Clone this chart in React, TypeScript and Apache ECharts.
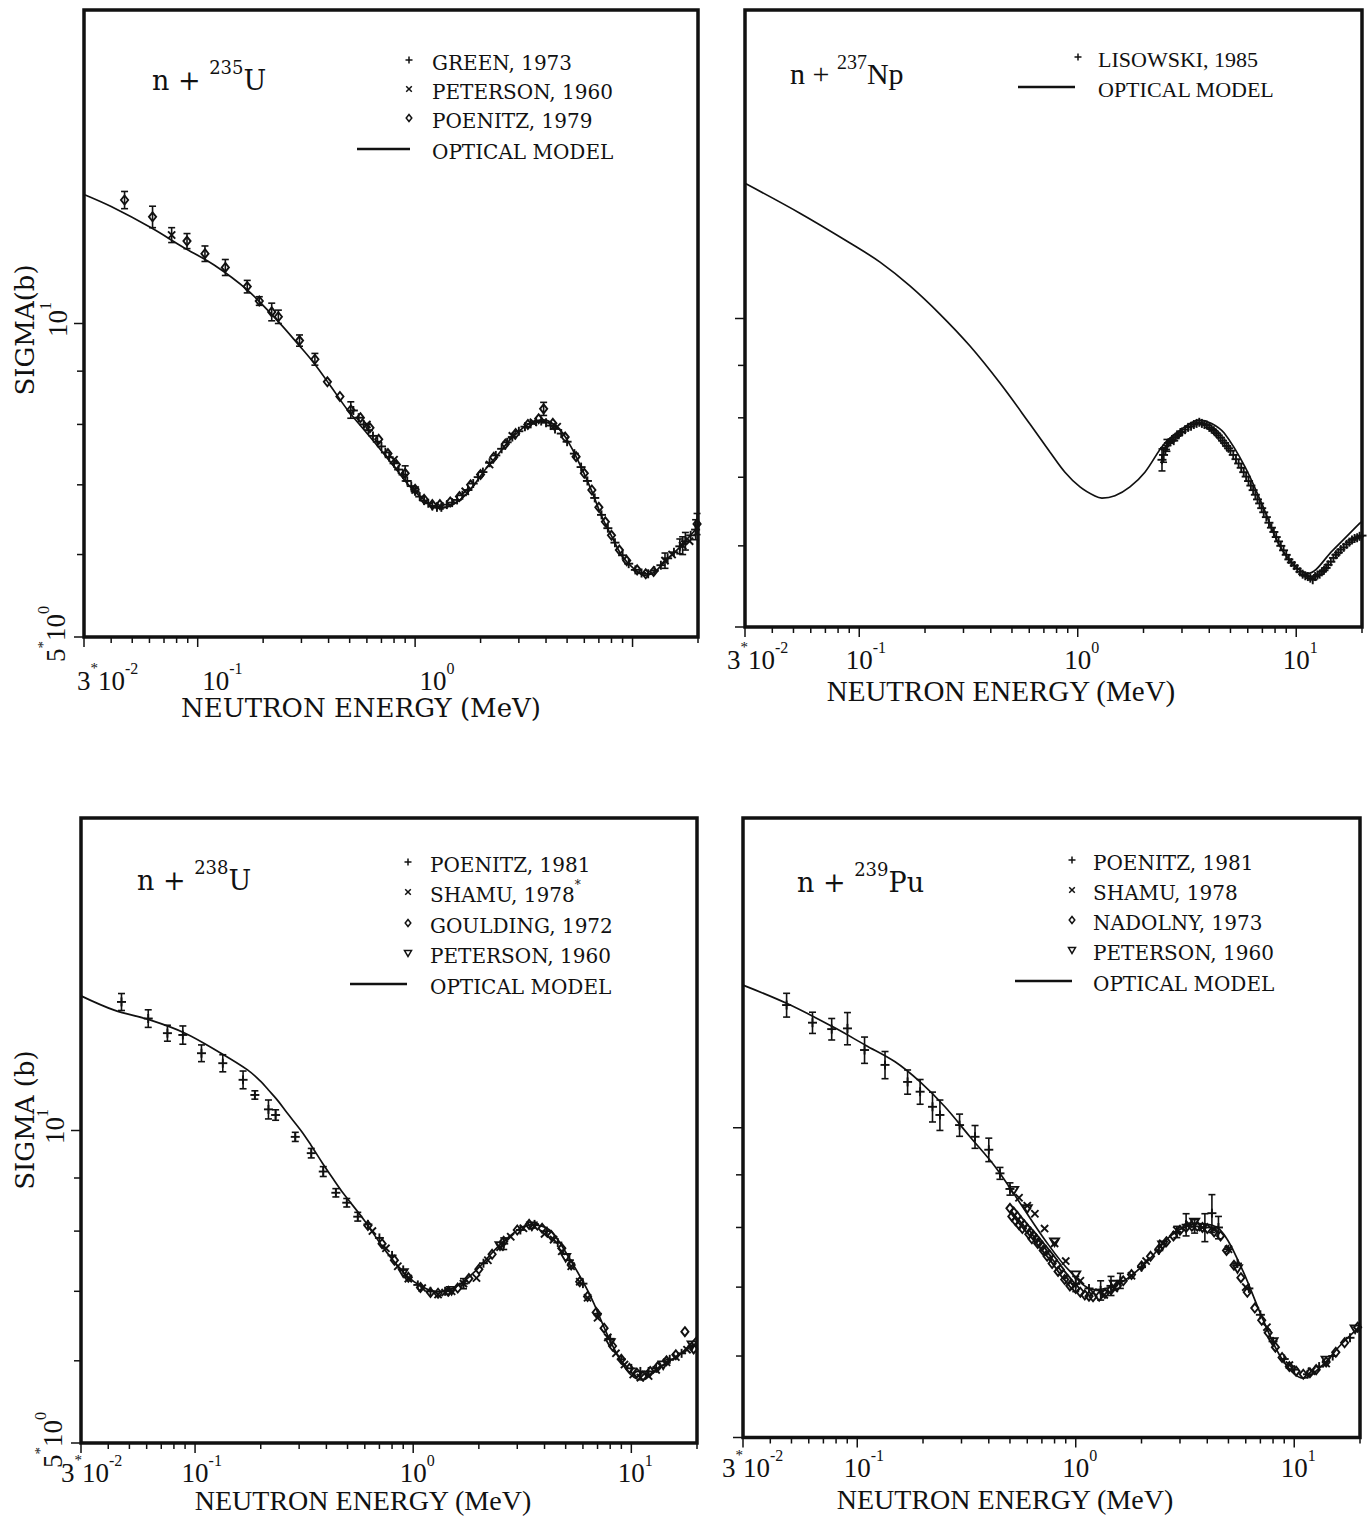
import React, { useEffect, useRef } from "react";
import * as echarts from "echarts";

// ---------- axis ranges and ticks ----------
const X_MIN = 0.03;
const X_MAX = 20;
const Y_MIN = 5;
const Y_MAX = 20;

const xTickValues = [0.03, 0.04, 0.05, 0.06, 0.07, 0.08, 0.09, 0.1, 0.2, 0.3, 0.4, 0.5, 0.6, 0.7, 0.8, 0.9, 1, 2, 3, 4, 5, 6, 7, 8, 9, 10, 20];
const xMajorTicks = [0.03, 0.1, 1, 10];
const yTickValues = [5, 6, 7, 8, 9, 10];
const yMajorTicks = [5, 10];

const xLabelValues = [0.03, 0.1, 1, 10];
const xLabelMantissas = ["3", "", "", ""];
const xLabelExponents = ["-2", "-1", "0", "1"];
const yLabelValues = [10, 5];
const yLabelMantissas = ["", "5"];
const yLabelExponents = ["1", "0"];

// ---------- n + 235U : [E (MeV), sigma (b), error (b)] ----------
const u235Model = [
  [0.03, 13.3], [0.04, 12.95], [0.0614, 12.35], [0.085, 11.85], [0.119, 11.38], [0.169, 10.77],
  [0.231, 10.08], [0.29, 9.55], [0.343, 9.16], [0.41, 8.7], [0.489, 8.26], [0.59, 7.88],
  [0.695, 7.56], [0.82, 7.24], [0.949, 6.97], [1.1, 6.77], [1.26, 6.65], [1.42, 6.67],
  [1.61, 6.77], [1.84, 6.97], [2.09, 7.23], [2.4, 7.48], [2.73, 7.73], [3.3, 8.0],
  [3.89, 8.08], [4.64, 7.9], [5.2, 7.62], [5.78, 7.29], [6.5, 6.9], [7.21, 6.53],
  [8.1, 6.22], [9.0, 5.97], [10.1, 5.82], [11.4, 5.73], [12.6, 5.77], [13.9, 5.89],
  [16.5, 6.1], [20, 6.38],
];
const u235Green = [
  [0.52, 8.25, 0], [0.55, 8.12, 0], [0.58, 8.0, 0], [0.61, 7.9, 0], [0.64, 7.8, 0], [0.67, 7.7, 0],
  [0.7, 7.62, 0], [0.73, 7.52, 0], [0.76, 7.44, 0], [0.8, 7.34, 0], [0.84, 7.24, 0], [0.88, 7.16, 0],
  [0.92, 7.06, 0], [0.96, 6.98, 0], [1.0, 6.9, 0], [1.05, 6.82, 0], [1.1, 6.76, 0], [1.15, 6.72, 0],
  [1.2, 6.68, 0], [1.26, 6.66, 0], [1.32, 6.66, 0], [1.4, 6.7, 0], [1.48, 6.73, 0], [1.56, 6.77, 0],
  [1.65, 6.84, 0], [1.75, 6.92, 0], [1.85, 7.02, 0], [1.95, 7.12, 0], [2.05, 7.2, 0], [2.2, 7.35, 0],
  [2.35, 7.47, 0], [2.5, 7.58, 0], [2.65, 7.69, 0], [2.8, 7.78, 0], [3.0, 7.88, 0], [3.2, 7.96, 0],
  [3.4, 8.01, 0], [3.6, 8.05, 0], [3.8, 8.06, 0], [4.0, 8.03, 0], [4.2, 7.98, 0], [4.4, 7.92, 0],
  [4.7, 7.84, 0], [5.0, 7.7, 0], [5.4, 7.5, 0], [5.8, 7.28, 0], [6.2, 7.06, 0], [6.7, 6.8, 0],
  [7.2, 6.55, 0], [7.7, 6.36, 0], [8.3, 6.16, 0], [9.0, 5.99, 0], [9.6, 5.88, 0], [10.3, 5.8, 0],
  [11.0, 5.76, 0], [11.8, 5.75, 0], [12.6, 5.79, 0], [13.5, 5.86, 0], [14.5, 5.95, 0], [15.5, 6.03, 0],
  [16.5, 6.11, 0.1], [17.5, 6.18, 0.12], [18.5, 6.26, 0], [19.5, 6.34, 0.14],
];
const u235Peterson = [
  [0.0759, 12.16, 0.2], [0.6, 8.0, 0], [0.8, 7.4, 0], [1.0, 6.92, 0], [1.3, 6.68, 0], [1.7, 6.9, 0],
  [2.2, 7.32, 0], [2.8, 7.8, 0], [3.5, 8.04, 0], [4.5, 7.96, 0], [14.1, 5.92, 0.1], [15.2, 6.0, 0],
  [17.0, 6.12, 0.12], [18.3, 6.18, 0],
];
const u235Poenitz = [
  [0.0461, 13.14, 0.25], [0.062, 12.66, 0.3], [0.0893, 12.0, 0.2], [0.108, 11.67, 0.2], [0.134, 11.32, 0.2],
  [0.169, 10.85, 0.15], [0.192, 10.51, 0.1], [0.219, 10.26, 0.2], [0.235, 10.15, 0.15], [0.294, 9.63, 0.12],
  [0.346, 9.24, 0.12], [0.395, 8.79, 0], [0.451, 8.51, 0], [0.506, 8.26, 0.15], [0.56, 8.12, 0],
  [0.62, 7.94, 0], [0.68, 7.74, 0], [0.75, 7.5, 0], [0.82, 7.32, 0], [0.9, 7.18, 0.12], [1.0, 6.93, 0],
  [1.1, 6.78, 0], [1.2, 6.7, 0], [1.3, 6.7, 0], [1.45, 6.74, 0], [1.6, 6.82, 0], [1.8, 7.0, 0],
  [2.0, 7.16, 0], [2.3, 7.44, 0], [2.6, 7.66, 0], [2.9, 7.84, 0], [3.3, 8.0, 0], [3.7, 8.1, 0],
  [3.9, 8.28, 0.12], [4.3, 8.02, 0], [4.9, 7.78, 0], [5.5, 7.45, 0], [6.0, 7.18, 0], [6.5, 6.92, 0],
  [7.0, 6.66, 0], [7.5, 6.45, 0], [8.0, 6.26, 0], [8.7, 6.06, 0], [9.4, 5.92, 0], [10.5, 5.8, 0],
  [11.5, 5.75, 0], [12.5, 5.78, 0], [19.8, 6.42, 0.15],
];

// ---------- n + 237Np ----------
const np237Model = [
  [0.03, 13.55], [0.0535, 12.67], [0.0907, 11.85], [0.1245, 11.35], [0.1706, 10.76], [0.2339, 10.1],
  [0.3213, 9.4], [0.4406, 8.65], [0.6043, 7.89], [0.746, 7.41], [0.874, 7.08], [1.024, 6.85],
  [1.199, 6.71], [1.291, 6.68], [1.48, 6.715], [1.734, 6.85], [2.03, 7.08], [2.507, 7.56],
  [3.096, 7.84], [3.59, 7.96], [4.1, 7.9], [4.68, 7.73], [5.82, 7.17], [6.95, 6.6],
  [8.65, 5.94], [11.3, 5.64], [14.7, 5.94], [19.5, 6.31], [20, 6.34],
];
const np237Lisowski = [
  [2.43, 7.28, 0.18], [2.47, 7.36, 0.12], [2.52, 7.45, 0], [2.56, 7.52, 0.1], [2.6, 7.56, 0], [2.65, 7.58, 0],
  [2.7, 7.62, 0], [2.75, 7.6, 0], [2.8, 7.66, 0], [2.85, 7.7, 0], [2.9, 7.7, 0], [2.95, 7.74, 0],
  [3.0, 7.75, 0], [3.1, 7.79, 0], [3.2, 7.83, 0], [3.3, 7.85, 0], [3.4, 7.88, 0], [3.5, 7.9, 0],
  [3.6, 7.92, 0], [3.7, 7.9, 0], [3.8, 7.88, 0], [3.9, 7.87, 0], [4.0, 7.83, 0], [4.1, 7.8, 0],
  [4.2, 7.77, 0], [4.3, 7.73, 0], [4.4, 7.69, 0], [4.5, 7.65, 0], [4.6, 7.6, 0], [4.7, 7.56, 0],
  [4.8, 7.51, 0], [4.9, 7.47, 0], [5.0, 7.43, 0], [5.15, 7.36, 0], [5.3, 7.29, 0], [5.45, 7.22, 0],
  [5.6, 7.15, 0], [5.75, 7.08, 0], [5.9, 7.01, 0], [6.05, 6.94, 0], [6.2, 6.87, 0], [6.35, 6.8, 0],
  [6.5, 6.73, 0], [6.65, 6.66, 0], [6.8, 6.6, 0], [6.95, 6.53, 0], [7.1, 6.47, 0], [7.3, 6.4, 0],
  [7.5, 6.32, 0], [7.7, 6.25, 0], [7.9, 6.19, 0], [8.1, 6.12, 0], [8.3, 6.06, 0], [8.5, 6.0, 0],
  [8.75, 5.94, 0], [9.0, 5.88, 0], [9.25, 5.82, 0], [9.5, 5.78, 0], [9.8, 5.74, 0], [10.1, 5.7, 0],
  [10.4, 5.66, 0], [10.7, 5.63, 0], [11.0, 5.61, 0], [11.3, 5.6, 0], [11.6, 5.58, 0], [11.9, 5.56, 0],
  [12.2, 5.6, 0], [12.5, 5.62, 0], [12.8, 5.63, 0], [13.1, 5.66, 0], [13.4, 5.68, 0], [13.7, 5.71, 0],
  [14.0, 5.75, 0], [14.4, 5.79, 0], [14.8, 5.84, 0], [15.2, 5.88, 0], [15.6, 5.91, 0], [16.0, 5.95, 0],
  [16.5, 5.98, 0], [17.0, 6.02, 0], [17.5, 6.05, 0], [18.0, 6.08, 0], [18.5, 6.1, 0], [19.0, 6.11, 0],
  [19.5, 6.13, 0], [20.0, 6.14, 0],
];

// ---------- n + 238U ----------
const u238Model = [
  [0.03, 13.48], [0.0426, 13.06], [0.062, 12.78], [0.09, 12.41], [0.128, 11.91], [0.174, 11.44],
  [0.2, 11.15], [0.217, 10.94], [0.24, 10.68], [0.264, 10.4], [0.308, 9.98], [0.34, 9.68],
  [0.384, 9.3], [0.43, 8.98], [0.478, 8.7], [0.595, 8.2],
  [0.743, 7.67], [0.925, 7.26], [1.1, 7.07], [1.29, 6.99], [1.57, 7.07], [1.95, 7.34],
  [2.55, 7.79], [3.46, 8.11], [4.22, 8.02], [5.14, 7.56], [6.4, 6.97], [7.98, 6.28],
  [9.52, 5.88], [11.1, 5.75], [13.5, 5.92], [16.9, 6.1], [20, 6.33],
];
const u238Poenitz = [
  [0.046, 13.3, 0.25], [0.061, 12.82, 0.25], [0.0747, 12.41, 0.22], [0.0879, 12.36, 0.25], [0.107, 11.87, 0.22],
  [0.134, 11.61, 0.22], [0.166, 11.19, 0.22], [0.188, 10.82, 0.1], [0.217, 10.48, 0.22], [0.234, 10.35, 0.12],
  [0.288, 9.86, 0.1], [0.341, 9.51, 0.1], [0.387, 9.13, 0.1], [0.442, 8.71, 0.08], [0.496, 8.52, 0.08],
  [0.557, 8.26, 0.08], [0.62, 8.12, 0], [0.7, 7.88, 0], [0.8, 7.58, 0], [0.9, 7.34, 0], [1.05, 7.1, 0],
  [1.2, 7.0, 0], [1.4, 7.0, 0], [1.7, 7.12, 0.08], [2.1, 7.45, 0], [2.6, 7.78, 0.1], [3.1, 8.02, 0],
  [3.6, 8.12, 0], [4.1, 8.0, 0], [4.6, 7.8, 0], [5.2, 7.5, 0], [6.0, 7.12, 0], [7.0, 6.66, 0],
  [8.0, 6.3, 0], [9.0, 6.02, 0], [10.0, 5.9, 0], [11.0, 5.86, 0], [12.0, 5.86, 0], [13.0, 5.9, 0],
  [15.0, 6.02, 0], [17.0, 6.1, 0], [19.0, 6.2, 0],
];
const u238Shamu = [
  [0.65, 8.0, 0], [0.75, 7.7, 0], [0.85, 7.4, 0], [0.95, 7.2, 0], [1.1, 7.05, 0], [1.3, 6.95, 0],
  [1.4, 6.98, 0], [1.5, 7.0, 0], [1.7, 7.12, 0], [1.95, 7.21, 0], [2.2, 7.5, 0], [2.5, 7.72, 0],
  [2.8, 7.9, 0], [3.2, 8.05, 0], [3.6, 8.08, 0], [4.0, 7.95, 0], [4.4, 7.85, 0], [4.8, 7.65, 0],
  [5.3, 7.4, 0], [5.8, 7.15, 0], [6.3, 6.9, 0], [7.0, 6.6, 0], [7.8, 6.32, 0], [8.5, 6.1, 0],
  [9.3, 5.95, 0], [10.2, 5.82, 0], [11.0, 5.78, 0], [12.0, 5.8, 0], [13.0, 5.88, 0], [14.5, 5.98, 0],
  [16.0, 6.05, 0], [18.0, 6.15, 0],
];
const u238Goulding = [
  [0.62, 8.1, 0], [0.72, 7.78, 0], [0.82, 7.5, 0], [0.95, 7.22, 0], [1.08, 7.06, 0], [1.2, 6.98, 0],
  [1.3, 6.97, 0], [1.45, 7.0, 0], [1.6, 7.05, 0], [1.8, 7.2, 0], [2.0, 7.35, 0], [2.3, 7.6, 0],
  [2.6, 7.82, 0], [3.0, 8.02, 0], [3.4, 8.12, 0], [3.9, 8.05, 0], [4.3, 7.92, 0], [4.8, 7.7, 0],
  [5.3, 7.42, 0], [5.8, 7.15, 0], [6.3, 6.92, 0], [6.9, 6.68, 0], [7.5, 6.45, 0], [8.2, 6.2, 0],
  [9.0, 6.02, 0], [9.8, 5.9, 0], [10.6, 5.84, 0], [11.3, 5.8, 0], [12.2, 5.86, 0], [13.2, 5.92, 0],
  [14.5, 6.0, 0], [16.0, 6.08, 0], [17.6, 6.4, 0], [19.3, 6.16, 0],
];
const u238Peterson = [
  [0.9, 7.3, 0], [1.5, 7.02, 0], [2.5, 7.75, 0], [3.5, 8.1, 0], [5.0, 7.55, 0], [8.0, 6.25, 0],
  [14.0, 5.95, 0], [19.0, 6.22, 0],
];

// ---------- n + 239Pu ----------
const pu239Model = [
  [0.03, 13.76], [0.0475, 13.21], [0.077, 12.54], [0.109, 12.03], [0.149, 11.59], [0.194, 11.08],
  [0.252, 10.48], [0.328, 9.8], [0.427, 9.17], [0.556, 8.45], [0.723, 7.78], [0.942, 7.25],
  [1.22, 6.96], [1.59, 7.06], [2.08, 7.38], [2.7, 7.84], [3.2, 8.02], [3.66, 8.07],
  [4.57, 7.96], [5.7, 7.33], [7.11, 6.55], [8.83, 5.95], [11.0, 5.71], [13.7, 5.9],
  [16.3, 6.15], [20, 6.41],
];
const pu239Poenitz = [
  [0.0475, 13.16, 0.35], [0.0624, 12.65, 0.3], [0.0764, 12.47, 0.3], [0.0902, 12.49, 0.45], [0.108, 11.9, 0.35],
  [0.134, 11.51, 0.35], [0.17, 11.08, 0.3], [0.194, 10.84, 0.3], [0.221, 10.48, 0.35], [0.239, 10.29, 0.35],
  [0.294, 10.06, 0.25], [0.346, 9.8, 0.25], [0.4, 9.52, 0.25], [0.45, 9.03, 0.12], [0.5, 8.72, 0.12],
  [1.0, 7.05, 0.12], [1.15, 6.98, 0], [1.3, 6.95, 0.15], [1.45, 7.02, 0.15], [1.6, 7.1, 0.12],
  [2.0, 7.32, 0], [2.4, 7.6, 0], [2.9, 7.92, 0.1], [3.2, 8.05, 0.2], [3.5, 8.02, 0.12], [3.9, 8.0, 0.25],
  [4.2, 8.26, 0.35], [4.5, 8.0, 0.2], [5.0, 7.62, 0], [5.5, 7.38, 0], [6.2, 6.98, 0], [7.0, 6.58, 0],
  [8.0, 6.2, 0], [9.0, 5.96, 0], [10.0, 5.82, 0], [11.5, 5.76, 0], [13.0, 5.86, 0], [15.0, 6.0, 0],
  [18.0, 6.25, 0],
];
const pu239Shamu = [
  [0.55, 8.55, 0], [0.6, 8.4, 0], [0.65, 8.25, 0], [0.72, 7.98, 0], [0.8, 7.72, 0], [0.9, 7.42, 0],
  [1.05, 7.1, 0], [1.2, 6.92, 0], [1.35, 6.88, 0], [1.5, 6.98, 0], [1.8, 7.18, 0], [2.1, 7.42, 0],
  [2.5, 7.72, 0], [2.9, 7.95, 0], [3.3, 8.06, 0], [3.8, 8.0, 0], [4.3, 7.96, 0], [5.0, 7.62, 0],
  [6.0, 7.0, 0], [7.5, 6.4, 0], [9.5, 5.88, 0], [12.0, 5.8, 0], [14.0, 5.9, 0],
];
const pu239Nadolny = [
  [0.5, 8.35, 0], [0.51, 8.2, 0], [0.52, 8.28, 0], [0.53, 8.12, 0], [0.54, 8.2, 0], [0.55, 8.05, 0],
  [0.56, 8.12, 0], [0.57, 7.98, 0], [0.58, 8.05, 0], [0.6, 7.98, 0], [0.61, 7.88, 0], [0.62, 7.92, 0],
  [0.63, 7.8, 0], [0.64, 7.86, 0], [0.66, 7.8, 0], [0.67, 7.72, 0], [0.68, 7.74, 0], [0.7, 7.68, 0],
  [0.71, 7.6, 0], [0.73, 7.6, 0], [0.74, 7.5, 0], [0.76, 7.52, 0], [0.78, 7.38, 0], [0.79, 7.44, 0],
  [0.82, 7.36, 0], [0.83, 7.25, 0], [0.85, 7.28, 0], [0.88, 7.2, 0], [0.89, 7.12, 0], [0.92, 7.12, 0],
  [0.94, 7.02, 0], [0.96, 7.04, 0], [1.0, 6.98, 0], [1.05, 6.92, 0], [1.1, 6.88, 0], [1.15, 6.86, 0],
  [1.2, 6.85, 0], [1.28, 6.86, 0], [1.36, 6.9, 0], [1.45, 6.96, 0], [1.55, 7.02, 0], [1.65, 7.1, 0],
  [1.8, 7.2, 0], [2.0, 7.34, 0], [2.2, 7.5, 0], [2.4, 7.62, 0], [2.6, 7.75, 0], [2.8, 7.85, 0],
  [3.0, 7.95, 0], [3.2, 8.0, 0], [3.4, 8.02, 0], [3.6, 8.02, 0], [3.8, 8.0, 0], [4.0, 7.98, 0],
  [4.3, 7.92, 0], [4.6, 7.85, 0], [4.9, 7.6, 0], [5.3, 7.35, 0], [5.7, 7.15, 0], [6.1, 6.92, 0],
  [6.6, 6.68, 0], [7.1, 6.5, 0], [7.6, 6.32, 0], [8.2, 6.12, 0], [8.8, 5.98, 0], [9.5, 5.86, 0],
  [10.2, 5.8, 0], [11.0, 5.76, 0], [11.8, 5.78, 0], [12.6, 5.82, 0], [14.0, 5.92, 0], [15.5, 6.05, 0],
  [17.0, 6.18, 0], [19.5, 6.4, 0],
];
const pu239Peterson = [
  [0.52, 8.7, 0], [0.6, 8.35, 0], [0.8, 7.75, 0], [1.0, 7.2, 0], [1.5, 7.05, 0], [2.5, 7.7, 0],
  [3.5, 8.1, 0], [5.5, 7.3, 0], [8.0, 6.2, 0], [14.0, 5.95, 0], [19.0, 6.38, 0],
];

// ---------- drawing styles ----------
const INK = "#111";
const SERIF_WIDE = '"DejaVu Serif", serif';
const SERIF_TIMES = '"Liberation Serif", serif';

type Shape = "plus" | "cross" | "diamond" | "triangle";

function glyph(shape: Shape, cx: number, cy: number, r: number, lw: number): any[] {
  const st = { stroke: INK, lineWidth: lw, fill: "none" };
  if (shape === "plus") {
    return [
      { type: "line", shape: { x1: cx - r, y1: cy, x2: cx + r, y2: cy }, style: st },
      { type: "line", shape: { x1: cx, y1: cy - r, x2: cx, y2: cy + r }, style: st },
    ];
  }
  if (shape === "cross") {
    const d = r * 0.8;
    return [
      { type: "line", shape: { x1: cx - d, y1: cy - d, x2: cx + d, y2: cy + d }, style: st },
      { type: "line", shape: { x1: cx - d, y1: cy + d, x2: cx + d, y2: cy - d }, style: st },
    ];
  }
  if (shape === "diamond") {
    return [{
      type: "polygon",
      shape: { points: [[cx, cy - r], [cx + r * 0.8, cy], [cx, cy + r], [cx - r * 0.8, cy]] },
      style: st,
    }];
  }
  return [{
    type: "polygon",
    shape: { points: [[cx - r, cy - r * 0.7], [cx + r, cy - r * 0.7], [cx, cy + r]] },
    style: st,
  }];
}

function markerRenderer(shape: Shape) {
  return (_params: any, api: any) => {
    const e = api.value(0);
    const s = api.value(1);
    const err = api.value(2);
    const c = api.coord([e, s]);
    const st = { stroke: INK, lineWidth: 1.6 };
    const children: any[] = [];
    if (err > 0) {
      const t = api.coord([e, s + err]);
      const b = api.coord([e, s - err]);
      children.push({ type: "line", shape: { x1: c[0], y1: t[1], x2: c[0], y2: b[1] }, style: st });
      children.push({ type: "line", shape: { x1: c[0] - 3.5, y1: t[1], x2: c[0] + 3.5, y2: t[1] }, style: st });
      children.push({ type: "line", shape: { x1: c[0] - 3.5, y1: b[1], x2: c[0] + 3.5, y2: b[1] }, style: st });
    }
    glyph(shape, c[0], c[1], 4.5, 1.9).forEach((g) => children.push(g));
    return { type: "group", children };
  };
}

function powerText(mantissa: string, exponent: string): string {
  return mantissa
    ? `{b|${mantissa}}{a|*}{b|10}{s|${exponent}}`
    : `{b|10}{s|${exponent}}`;
}

const tickRich = {
  b: { fontSize: 27, fontFamily: SERIF_TIMES, fill: INK, color: INK, lineHeight: 34, verticalAlign: "bottom" },
  a: { fontSize: 15, fontFamily: SERIF_TIMES, fill: INK, color: INK, lineHeight: 22, verticalAlign: "top" },
  s: { fontSize: 16, fontFamily: SERIF_TIMES, fill: INK, color: INK, lineHeight: 18, verticalAlign: "top" },
};

// ---------- panel layout ----------
type Legend = { label: string; shape?: Shape; star?: boolean };

const panels = [
  {
    grid: { left: 84, top: 10, width: 614, height: 627 },
    model: u235Model,
    sets: [
      { data: u235Green, shape: "plus" as Shape },
      { data: u235Peterson, shape: "cross" as Shape },
      { data: u235Poenitz, shape: "diamond" as Shape },
    ],
    xLabelCount: 3, tenShift: 18, mantShift: -7, labelDy: 40,
    yLabels: true,
    title: { x: 152, y: 76, nucleus: "U", mass: "235", font: SERIF_WIDE, size: 27 },
    legend: {
      font: SERIF_WIDE, size: 20, symX: 409, textX: 432, lineX1: 357, lineX2: 410,
      rows: [60, 89, 118, 149],
      items: [
        { label: "GREEN, 1973", shape: "plus" }, { label: "PETERSON, 1960", shape: "cross" },
        { label: "POENITZ, 1979", shape: "diamond" }, { label: "OPTICAL MODEL" },
      ] as Legend[],
    },
    xTitle: { x: 361, y: 708, font: SERIF_WIDE, size: 26 },
    yTitle: { x: 25, y: 330, text: "SIGMA(b)" },
  },
  {
    grid: { left: 745, top: 10, width: 617, height: 617 },
    model: np237Model,
    sets: [{ data: np237Lisowski, shape: "plus" as Shape }],
    xLabelCount: 4, tenShift: 0, mantShift: -18, labelDy: 29,
    yLabels: false,
    title: { x: 790, y: 70, nucleus: "Np", mass: "237", font: SERIF_TIMES, size: 30 },
    legend: {
      font: SERIF_TIMES, size: 22, symX: 1078, textX: 1098, lineX1: 1018, lineX2: 1075,
      rows: [57, 87],
      items: [{ label: "LISOWSKI, 1985", shape: "plus" }, { label: "OPTICAL MODEL" }] as Legend[],
    },
    xTitle: { x: 1001, y: 691, font: SERIF_TIMES, size: 29 },
    yTitle: null,
  },
  {
    grid: { left: 81, top: 818, width: 616, height: 625 },
    model: u238Model,
    sets: [
      { data: u238Poenitz, shape: "plus" as Shape },
      { data: u238Shamu, shape: "cross" as Shape },
      { data: u238Goulding, shape: "diamond" as Shape },
      { data: u238Peterson, shape: "triangle" as Shape },
    ],
    xLabelCount: 4, tenShift: 0, mantShift: -20, labelDy: 26,
    yLabels: true,
    title: { x: 137, y: 876, nucleus: "U", mass: "238", font: SERIF_WIDE, size: 27 },
    legend: {
      font: SERIF_WIDE, size: 20, symX: 408, textX: 430, lineX1: 350, lineX2: 407,
      rows: [862, 892, 923, 953, 984],
      items: [
        { label: "POENITZ, 1981", shape: "plus" }, { label: "SHAMU, 1978", shape: "cross", star: true },
        { label: "GOULDING, 1972", shape: "diamond" }, { label: "PETERSON, 1960", shape: "triangle" },
        { label: "OPTICAL MODEL" },
      ] as Legend[],
    },
    xTitle: { x: 363, y: 1500, font: SERIF_TIMES, size: 28 },
    yTitle: { x: 25, y: 1120, text: "SIGMA (b)" },
  },
  {
    grid: { left: 743, top: 818, width: 617, height: 619.5 },
    model: pu239Model,
    sets: [
      { data: pu239Nadolny, shape: "diamond" as Shape },
      { data: pu239Poenitz, shape: "plus" as Shape },
      { data: pu239Shamu, shape: "cross" as Shape },
      { data: pu239Peterson, shape: "triangle" as Shape },
    ],
    xLabelCount: 4, tenShift: 0, mantShift: -21, labelDy: 27,
    yLabels: false,
    title: { x: 797, y: 878, nucleus: "Pu", mass: "239", font: SERIF_WIDE, size: 27 },
    legend: {
      font: SERIF_WIDE, size: 20, symX: 1072, textX: 1093, lineX1: 1015, lineX2: 1072,
      rows: [860, 890, 920, 950, 981],
      items: [
        { label: "POENITZ, 1981", shape: "plus" }, { label: "SHAMU, 1978", shape: "cross" },
        { label: "NADOLNY, 1973", shape: "diamond" }, { label: "PETERSON, 1960", shape: "triangle" },
        { label: "OPTICAL MODEL" },
      ] as Legend[],
    },
    xTitle: { x: 1005, y: 1499, font: SERIF_TIMES, size: 28 },
    yTitle: null,
  },
];

function buildOption() {
  const series: any[] = [];
  const graphic: any[] = [];

  panels.forEach((p, i) => {
    // optical-model curve
    series.push({
      type: "line",
      xAxisIndex: i,
      yAxisIndex: i,
      data: p.model,
      showSymbol: false,
      smooth: 0.35,
      lineStyle: { color: INK, width: 1.7 },
      z: 3,
    });
    // measurements
    p.sets.forEach((set) => {
      series.push({
        type: "custom",
        xAxisIndex: i,
        yAxisIndex: i,
        data: set.data,
        renderItem: markerRenderer(set.shape),
        z: 4,
      });
    });
    // x ticks (outward, below the frame)
    series.push({
      type: "custom",
      xAxisIndex: i,
      yAxisIndex: i,
      data: xTickValues.map((v) => [v, Y_MIN]),
      renderItem: (_params: any, api: any) => {
        const v = api.value(0);
        const c = api.coord([v, Y_MIN]);
        const len = xMajorTicks.indexOf(v) >= 0 ? 10 : 6;
        return {
          type: "line",
          shape: { x1: c[0], y1: c[1], x2: c[0], y2: c[1] + len },
          style: { stroke: INK, lineWidth: 1.5 },
        };
      },
      z: 5,
    });
    // y ticks (outward, left of the frame)
    series.push({
      type: "custom",
      xAxisIndex: i,
      yAxisIndex: i,
      data: yTickValues.map((v) => [X_MIN, v]),
      renderItem: (_params: any, api: any) => {
        const v = api.value(1);
        const c = api.coord([X_MIN, v]);
        const len = yMajorTicks.indexOf(v) >= 0 ? 10 : 7;
        return {
          type: "line",
          shape: { x1: c[0] - len, y1: c[1], x2: c[0], y2: c[1] },
          style: { stroke: INK, lineWidth: 1.5 },
        };
      },
      z: 5,
    });
    // x tick labels
    series.push({
      type: "custom",
      xAxisIndex: i,
      yAxisIndex: i,
      data: xLabelValues.slice(0, p.xLabelCount).map((v) => [v, Y_MIN]),
      renderItem: (params: any, api: any) => {
        const k = params.dataIndex;
        const c = api.coord([api.value(0), Y_MIN]);
        const m = xLabelMantissas[k];
        const x = m ? c[0] + p.mantShift : c[0] - 13.5 + p.tenShift;
        return {
          type: "text",
          x,
          y: c[1] + p.labelDy,
          style: {
            text: powerText(m, xLabelExponents[k]),
            rich: tickRich,
            align: "left",
            verticalAlign: "middle",
            textAlign: "left",
            textVerticalAlign: "middle",
            fill: INK,
          },
        };
      },
      z: 5,
    });
    // y tick labels (rotated, left panels only)
    if (p.yLabels) {
      series.push({
        type: "custom",
        xAxisIndex: i,
        yAxisIndex: i,
        data: yLabelValues.map((v) => [X_MIN, v]),
        renderItem: (params: any, api: any) => {
          const k = params.dataIndex;
          const c = api.coord([X_MIN, api.value(1)]);
          const m = yLabelMantissas[k];
          return {
            type: "text",
            x: c[0] - (m ? 32 : 30),
            y: c[1] + (m ? 25 : 13.5),
            rotation: Math.PI / 2,
            style: {
              text: powerText(m, yLabelExponents[k]),
              rich: tickRich,
              align: "left",
              verticalAlign: "middle",
              textAlign: "left",
              textVerticalAlign: "middle",
              fill: INK,
            },
          };
        },
        z: 5,
      });
    }

    // panel title  n + (A)X
    const t = p.title;
    graphic.push({
      type: "text",
      x: t.x,
      y: t.y,
      style: {
        text: `{m|n + }{s|${t.mass}}{m|${t.nucleus}}`,
        align: "left",
        verticalAlign: "middle",
        rich: {
          m: { fontSize: t.size, fontFamily: t.font, fill: INK, lineHeight: 36, verticalAlign: "bottom" },
          s: { fontSize: Math.round(t.size * 0.68), fontFamily: t.font, fill: INK, lineHeight: 20, verticalAlign: "top" },
        },
      },
    });

    // legend
    const lg = p.legend;
    lg.items.forEach((it, r) => {
      const y = lg.rows[r];
      if (it.shape) {
        glyph(it.shape, lg.symX, y, 3.5, 1.5).forEach((g) => graphic.push(g));
      } else {
        graphic.push({
          type: "line",
          shape: { x1: lg.lineX1, y1: y, x2: lg.lineX2, y2: y },
          style: { stroke: INK, lineWidth: 2.5 },
        });
      }
      graphic.push({
        type: "text",
        x: lg.textX,
        y,
        style: {
          text: it.star ? `{t|${it.label}}{a|*}` : `{t|${it.label}}`,
          align: "left",
          verticalAlign: "middle",
          rich: {
            t: { fontSize: lg.size, fontFamily: lg.font, fill: INK, lineHeight: 26, verticalAlign: "bottom" },
            a: { fontSize: 12, fontFamily: lg.font, fill: INK, lineHeight: 12, verticalAlign: "top" },
          },
        },
      });
    });

    // axis titles
    graphic.push({
      type: "text",
      x: p.xTitle.x,
      y: p.xTitle.y,
      style: {
        text: "NEUTRON ENERGY (MeV)",
        font: `${p.xTitle.size}px ${p.xTitle.font}`,
        fill: INK,
        align: "center",
        verticalAlign: "middle",
      },
    });
    if (p.yTitle) {
      graphic.push({
        type: "text",
        x: p.yTitle.x,
        y: p.yTitle.y,
        rotation: Math.PI / 2,
        style: {
          text: p.yTitle.text,
          font: `26px ${SERIF_WIDE}`,
          fill: INK,
          align: "center",
          verticalAlign: "middle",
        },
      });
    }
  });

  return {
    animation: false,
    backgroundColor: "#ffffff",
    grid: panels.map((p) => ({
      ...p.grid,
      show: true,
      borderColor: INK,
      borderWidth: 3.5,
      backgroundColor: "transparent",
      containLabel: false,
    })),
    xAxis: panels.map((_p, i) => ({
      type: "log",
      logBase: 10,
      gridIndex: i,
      min: X_MIN,
      max: X_MAX,
      axisLine: { show: false },
      axisTick: { show: false },
      axisLabel: { show: false },
      splitLine: { show: false },
    })),
    yAxis: panels.map((_p, i) => ({
      type: "log",
      logBase: 10,
      gridIndex: i,
      min: Y_MIN,
      max: Y_MAX,
      axisLine: { show: false },
      axisTick: { show: false },
      axisLabel: { show: false },
      splitLine: { show: false },
    })),
    series,
    graphic,
  };
}

export default function App() {
  const ref = useRef<HTMLDivElement | null>(null);
  useEffect(() => {
    if (!ref.current) return;
    const chart = echarts.init(ref.current, undefined, { renderer: "svg" });
    chart.setOption(buildOption() as any);
    return () => chart.dispose();
  }, []);
  return (
    <div
      ref={ref}
      style={{ position: "absolute", left: 0, top: 0, width: 1371, height: 1516, background: "#fff" }}
    />
  );
}
